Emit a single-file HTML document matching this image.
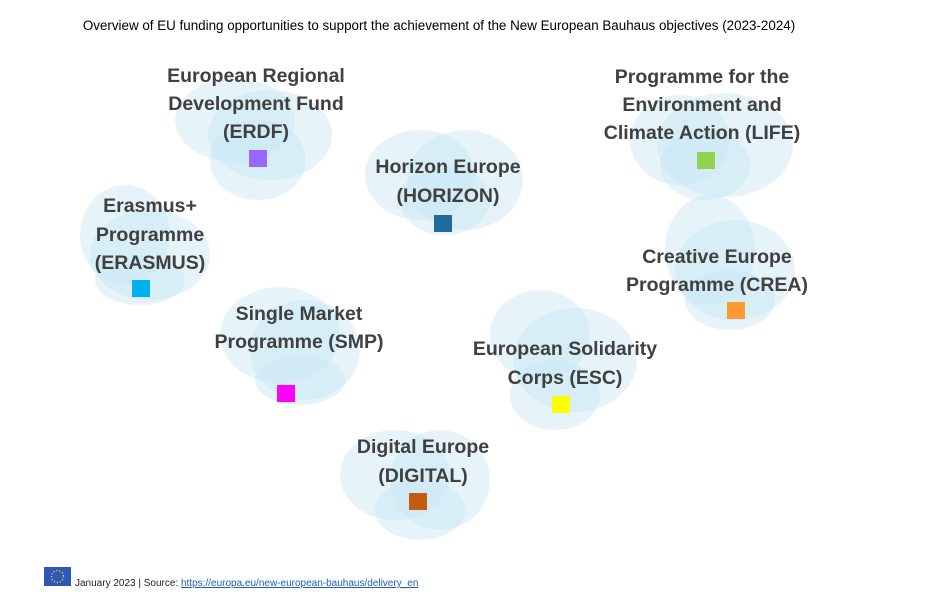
<!DOCTYPE html>
<html><head><meta charset="utf-8"><style>
html,body{margin:0;padding:0;background:#fff;width:927px;height:595px;overflow:hidden}
svg{display:block}
.t{font-family:"Liberation Sans",sans-serif;font-weight:bold;font-size:19.5px;fill:#404040;text-anchor:middle}
.b{fill:#c8e6f4;opacity:.45}
</style></head><body>
<svg width="927" height="595" viewBox="0 0 927 595">
<text x="439" y="30" font-family="Liberation Sans, sans-serif" font-size="13.4" fill="#000" text-anchor="middle">Overview of EU funding opportunities to support the achievement of the New European Bauhaus objectives (2023-2024)</text>

<ellipse class="b" cx="235" cy="120" rx="60" ry="42"/>
<ellipse class="b" cx="270" cy="135" rx="62" ry="45"/>
<ellipse class="b" cx="258" cy="160" rx="48" ry="40"/>
<ellipse class="b" cx="420" cy="175" rx="55" ry="45"/>
<ellipse class="b" cx="465" cy="180" rx="58" ry="50"/>
<ellipse class="b" cx="445" cy="200" rx="45" ry="35"/>
<ellipse class="b" cx="680" cy="140" rx="50" ry="45"/>
<ellipse class="b" cx="725" cy="145" rx="68" ry="52"/>
<ellipse class="b" cx="705" cy="165" rx="45" ry="35"/>
<ellipse class="b" cx="125" cy="235" rx="45" ry="50"/>
<ellipse class="b" cx="150" cy="255" rx="60" ry="45"/>
<ellipse class="b" cx="140" cy="280" rx="45" ry="25"/>
<ellipse class="b" cx="710" cy="250" rx="45" ry="55"/>
<ellipse class="b" cx="735" cy="270" rx="60" ry="50"/>
<ellipse class="b" cx="730" cy="300" rx="45" ry="30"/>
<ellipse class="b" cx="280" cy="335" rx="60" ry="48"/>
<ellipse class="b" cx="305" cy="350" rx="55" ry="50"/>
<ellipse class="b" cx="300" cy="380" rx="45" ry="25"/>
<ellipse class="b" cx="540" cy="335" rx="50" ry="45"/>
<ellipse class="b" cx="575" cy="360" rx="62" ry="52"/>
<ellipse class="b" cx="555" cy="395" rx="45" ry="35"/>
<ellipse class="b" cx="395" cy="475" rx="55" ry="45"/>
<ellipse class="b" cx="440" cy="480" rx="50" ry="50"/>
<ellipse class="b" cx="420" cy="510" rx="45" ry="30"/>

<text class="t" x="256" y="82">European Regional</text>
<text class="t" x="256" y="110">Development Fund</text>
<text class="t" x="256" y="138">(ERDF)</text>
<rect x="249" y="150" width="18" height="17" fill="#9966ff"/>

<text class="t" x="448" y="173">Horizon Europe</text>
<text class="t" x="448" y="202">(HORIZON)</text>
<rect x="434" y="215" width="18" height="17" fill="#1f6b99"/>

<text class="t" x="702" y="83">Programme for the</text>
<text class="t" x="702" y="111">Environment and</text>
<text class="t" x="702" y="139">Climate Action (LIFE)</text>
<rect x="697" y="152" width="18" height="17" fill="#92d050"/>

<text class="t" x="150" y="212">Erasmus+</text>
<text class="t" x="150" y="241">Programme</text>
<text class="t" x="150" y="269">(ERASMUS)</text>
<rect x="132" y="280" width="18" height="17" fill="#00b0f0"/>

<text class="t" x="717" y="263">Creative Europe</text>
<text class="t" x="717" y="291">Programme (CREA)</text>
<rect x="727" y="302" width="18" height="17" fill="#ff9933"/>

<text class="t" x="299" y="320">Single Market</text>
<text class="t" x="299" y="348">Programme (SMP)</text>
<rect x="277" y="385" width="18" height="17" fill="#ff00ff"/>

<text class="t" x="565" y="355">European Solidarity</text>
<text class="t" x="565" y="384">Corps (ESC)</text>
<rect x="552" y="396" width="18" height="17" fill="#ffff00"/>

<text class="t" x="423" y="453">Digital Europe</text>
<text class="t" x="423" y="482">(DIGITAL)</text>
<rect x="409" y="493" width="18" height="17" fill="#c55a11"/>

<rect x="44" y="567" width="27" height="19" fill="#2e57b8"/>
<circle cx="57.5" cy="576.5" r="6" fill="none" stroke="#ffdd00" stroke-width="1.5" stroke-dasharray="1 2"/>
<text x="75" y="586" font-family="Liberation Sans, sans-serif" font-size="10" fill="#222">January 2023 | Source: <tspan fill="#1f5fbf" text-decoration="underline">https://europa.eu/new-european-bauhaus/delivery_en</tspan></text>
</svg>
</body></html>
